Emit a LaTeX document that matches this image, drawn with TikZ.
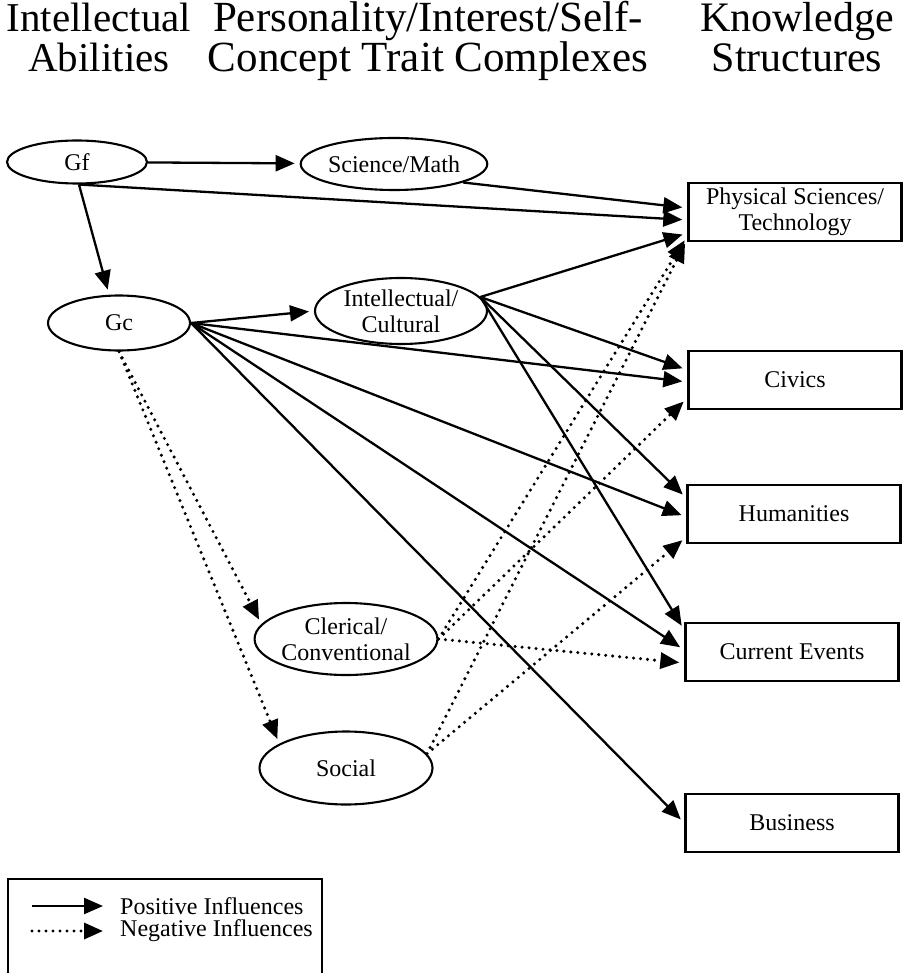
\documentclass[tikz,border=0pt]{standalone}
\usepackage{fontspec}
\setmainfont{Liberation Serif}
\usetikzlibrary{arrows.meta,shapes.geometric}

\begin{document}
\begin{tikzpicture}[x=1pt,y=-1pt,
    posArrow/.style={-{Triangle[length=19pt,width=16pt]}, line width=2.3pt, shorten >=5pt},
    negArrow/.style={-{Triangle[length=19pt,width=16pt]}, line width=3.4pt, dash pattern=on 0pt off 7pt, line cap=round, shorten >=5pt},
    trait/.style={ellipse, draw, line width=2.1pt, inner sep=0, align=center, font=\fontsize{24}{26}\selectfont},
    know/.style={rectangle, draw, line width=2.4pt, minimum width=213pt, minimum height=58pt, inner sep=0, align=center, font=\fontsize{24}{26}\selectfont},
    head/.style={align=center, inner sep=0, anchor=base, font=\fontsize{42}{40}\selectfont}]

      \useasboundingbox (0,0) rectangle (906,973);

      \node[head, font=\fontsize{41}{40}\selectfont] (hAbil) at (99,72) {Intellectual\\Abilities};
      \node[head, font=\fontsize{43}{40}\selectfont] (hTrait) at (428,72) {Personality/Interest/Self-\\Concept Trait Complexes};
      \node[head] (hKnow) at (797,72) {Knowledge\\Structures};

      \node[trait, minimum width=140pt, minimum height=43pt] (gf) at (77,162) {Gf};
      \node[trait, minimum width=142pt, minimum height=55pt] (gc) at (119,323) {Gc};
      \node[trait, minimum width=168pt, minimum height=52pt] (sci) at (394,164) {Science/Math};
      \node[trait, minimum width=172pt, minimum height=66pt] (intel) at (401,311) {Intellectual/\\Cultural};
      \node[trait, minimum width=174pt, minimum height=72pt] (cler) at (346,639) {Clerical/\\Conventional};
      \node[trait, minimum width=173pt, minimum height=73pt] (soc) at (346,768) {Social};

      \node[know] (phys) at (795,212) {Physical Sciences/\\Technology};
      \node[know] (civ) at (795,380) {Civics};
      \node[know] (hum) at (794,514) {Humanities};
      \node[know] (cur) at (792,652) {Current Events};
      \node[know] (bus) at (792,823) {Business};

      \draw[posArrow] (gf) -- (sci);
      \draw[posArrow] (gf.-85) -- ([yshift=-8pt]phys.west);
      \draw[posArrow] (gf.-85) -- ([xshift=-10pt]gc.north);
      \draw[posArrow] (sci.-15) -- ([yshift=4pt]phys.west);
      \draw[posArrow] (gc.east) -- (intel.west);
      \draw[posArrow] (gc.east) -- ([yshift=-2pt]civ.west);
      \draw[posArrow] (gc.east) -- ([yshift=-3pt]hum.west);
      \draw[posArrow] (gc.east) -- ([yshift=2pt]cur.west);
      \draw[posArrow] (gc.east) -- (bus.west);
      \draw[posArrow] (intel.10) -- ([yshift=-21pt]phys.west);
      \draw[posArrow] (intel.10) -- ([yshift=10pt]civ.west);
      \draw[posArrow] (intel.10) -- ([yshift=16pt]hum.west);
      \draw[posArrow] (intel.10) -- ([yshift=22pt]cur.west);

      \draw[negArrow] (gc.south) -- (cler.170);
      \draw[negArrow] (gc.south) -- (soc.160);
      \draw[negArrow] (cler.east) -- ([yshift=-24pt]phys.west);
      \draw[negArrow] (cler.east) -- ([yshift=-18pt]civ.west);
      \draw[negArrow] (cler.east) -- ([yshift=-11pt]cur.west);
      \draw[negArrow] (soc.10) -- ([yshift=-27pt]phys.west);
      \draw[negArrow] (soc.10) -- ([yshift=-23pt]hum.west);

      \draw[line width=2pt] (8,973) -- (8,879) -- (322,879) -- (322,973);
      \coordinate (posA) at (32,906);
      \coordinate (posB) at (108,906);
      \coordinate (negA) at (32,931);
      \coordinate (negB) at (108,931);
      \draw[posArrow] (posA) -- (posB);
      \draw[negArrow] (negA) -- (negB);
      \node[anchor=west, inner sep=0, font=\fontsize{24}{26}\selectfont] (posTxt) at (120,906) {Positive Influences};
      \node[anchor=west, inner sep=0, font=\fontsize{24}{26}\selectfont] (negTxt) at (120,931) {Negative Influences};
    \end{tikzpicture}
\end{document}
